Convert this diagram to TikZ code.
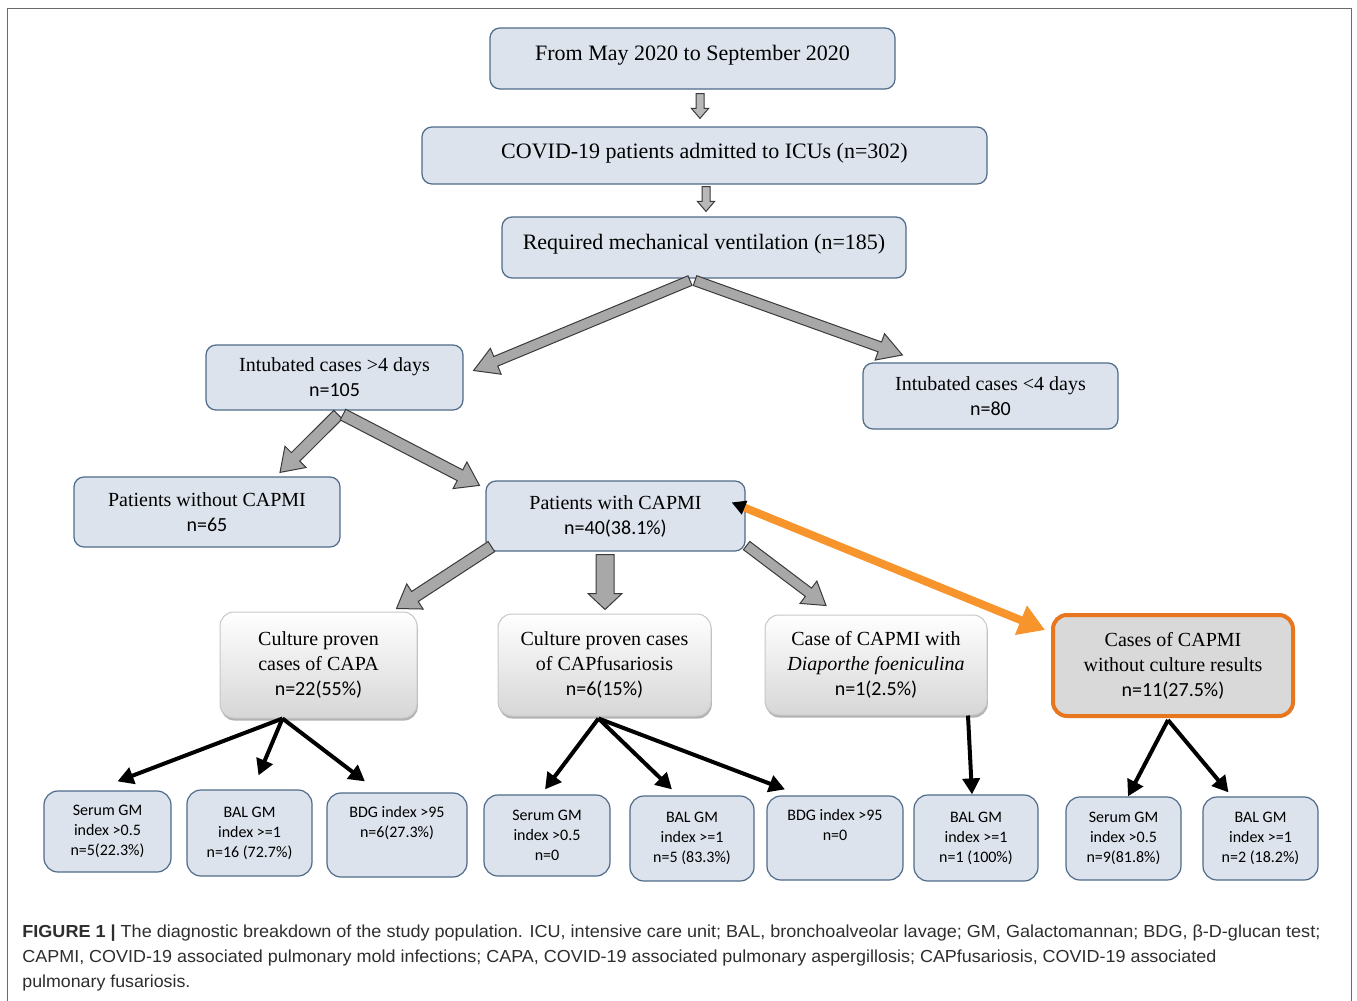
\documentclass[tikz,border=0pt]{standalone}
\usepackage{fontspec}
\usepackage{graphicx}
\setmainfont{Liberation Serif}
\newfontfamily\calfont{Carlito}
\newfontfamily\capfont{Liberation Sans}
\usetikzlibrary{calc,arrows.meta,shadows}
\definecolor{boxfill}{HTML}{DCE3ED}
\definecolor{boxedge}{HTML}{4F6B8A}
\definecolor{arrfill}{HTML}{A8A8A8}
\definecolor{arredge}{HTML}{3A3A3A}
\definecolor{orarrow}{HTML}{F7952C}
\definecolor{orbox}{HTML}{E8761E}
\definecolor{framegray}{HTML}{6A6A6A}
\newcommand\blockarrow[6][]{%
  \coordinate (bah) at ($(#3)!#6!(#2)$);
  \draw[blockarr,#1] ($(#2)!#4!90:(#3)$) -- ($(bah)!#4!90:(#3)$) -- ($(bah)!#5!90:(#3)$) -- (#3)
    -- ($(bah)!#5!-90:(#3)$) -- ($(bah)!#4!-90:(#3)$) -- ($(#2)!#4!-90:(#3)$) -- cycle;}
\begin{document}
\begin{tikzpicture}[x=0.5pt,y=-0.5pt,
  bluebox/.style={draw=boxedge, fill=boxfill, rounded corners=5pt, line width=0.6pt, align=center, inner sep=0pt},
  topbox/.style={bluebox, font=\fontsize{11}{13}\selectfont, text depth=6pt},
  midbox/.style={bluebox, font=\fontsize{10}{12.5}\selectfont},
  smallbox/.style={bluebox, rounded corners=7pt, font=\calfont\fontsize{8}{10}\selectfont},
  cultbox/.style={draw=black!22, top color=white, bottom color=black!16, rounded corners=7pt, line width=0.5pt,
     align=center, inner sep=0pt, font=\fontsize{10}{12.5}\selectfont,
     drop shadow={shadow xshift=0.4pt, shadow yshift=-1.3pt, fill=black!50, opacity=0.6}},
  orangebox/.style={draw=orbox, fill=black!15, line width=2pt, rounded corners=7pt, align=center, inner sep=0pt,
     font=\fontsize{10}{12.5}\selectfont},
  blockarr/.style={draw=arredge, fill=arrfill, line width=0.5pt, line join=miter},
  blackarr/.style={draw=black, line width=2pt, -{Triangle[length=8pt,width=8.5pt]}},
  capline/.style={anchor=base west, inner sep=0pt, text=black!82, font=\capfont\fontsize{8.7}{10}\selectfont}
]
\useasboundingbox (0,0) rectangle (1357,1001);
\fill[white] (0,0) rectangle (1357,1001);
\draw[framegray, line width=0.8pt] (7.5,1001) -- (7.5,8.5) -- (1351.5,8.5) -- (1351.5,1001);

% top boxes
\node[topbox, minimum width=202.5pt, minimum height=30.5pt] (from) at (692.5,58.5) {From May 2020 to September 2020};
\node[topbox, minimum width=282.5pt, minimum height=28.5pt, text depth=4.5pt] (covid) at (704.5,155.5) {COVID-19 patients admitted to ICUs (n=302)};
\node[topbox, minimum width=202pt, minimum height=30.5pt] (req) at (704,247.5) {Required mechanical ventilation (n=185)};

\node[midbox, minimum width=128.5pt, minimum height=32.5pt] (int4) at (334.5,377.5) {Intubated cases >4 days\\ \calfont n=105};
\node[midbox, minimum width=127.5pt, minimum height=33pt] (intlt) at (990.5,396) {Intubated cases <4 days\\ \calfont n=80};
\node[midbox, minimum width=133pt, minimum height=35pt] (without) at (207,512) {Patients without CAPMI\\ \calfont n=65};
\node[midbox, minimum width=129.5pt, minimum height=35pt] (with) at (615.5,516) {Patients with CAPMI\\ \calfont n=40(38.1\%)};

\node[cultbox, minimum width=98.5pt, minimum height=53pt] (capa) at (318.5,665) {Culture proven\\ cases of CAPA\\ \calfont n=22(55\%)};
\node[cultbox, minimum width=106.5pt, minimum height=51pt] (fus) at (604.5,665) {Culture proven cases\\ of CAPfusariosis\\ \calfont n=6(15\%)};
\node[cultbox, minimum width=111pt, minimum height=50pt] (diap) at (876,665) {Case of CAPMI with\\ \textit{Diaporthe foeniculina}\\ \calfont n=1(2.5\%)};
\node[orangebox, minimum width=120pt, minimum height=50.5pt] (nocult) at (1173,665.5) {Cases of CAPMI\\ without culture results\\ \calfont n=11(27.5\%)};

% bottom boxes
\node[smallbox, minimum width=63.5pt, minimum height=40.5pt] (s1) at (107.5,831.5) {Serum GM\\ index >0.5\\ n=5(22.3\%)};
\node[smallbox, minimum width=62.5pt, minimum height=43pt] (b1) at (249.5,833) {BAL GM\\ index >=1\\ n=16 (72.7\%)};
\node[smallbox, minimum width=70pt, minimum height=42pt] (d1) at (397,835) {BDG index >95\\ n=6(27.3\%)\\ \strut};
\node[smallbox, minimum width=63pt, minimum height=40.5pt] (s2) at (547,835.5) {Serum GM\\ index >0.5\\ n=0};
\node[smallbox, minimum width=62pt, minimum height=42.5pt] (b2) at (692,838.5) {BAL GM\\ index >=1\\ n=5 (83.3\%)};
\node[smallbox, minimum width=68pt, minimum height=42pt] (d2) at (835,838) {BDG index >95\\ n=0\\ \strut};
\node[smallbox, minimum width=62pt, minimum height=43pt] (b3) at (976,838) {BAL GM\\ index >=1\\ n=1 (100\%)};
\node[smallbox, minimum width=57.5pt, minimum height=41.5pt] (s3) at (1123.5,838.5) {Serum GM\\ index >0.5\\ n=9(81.8\%)};
\node[smallbox, minimum width=57.5pt, minimum height=41.5pt] (b4) at (1260.5,838.5) {BAL GM\\ index >=1\\ n=2 (18.2\%)};

% block arrows
\coordinate (a1s) at ($(from.south)+(7.5,4)$);
\coordinate (a1e) at ($(covid.north)+(-4.5,-8)$);
\blockarrow[fill=black!28]{a1s}{a1e}{2pt}{4.3pt}{5pt}
\coordinate (a2s) at ($(covid.south)+(1.5,2)$);
\coordinate (a2e) at ($(req.north)+(2,-5)$);
\blockarrow[fill=black!28]{a2s}{a2e}{2pt}{4.3pt}{5pt}

\coordinate (a3s) at ($(req.south)+(-14,2)$);
\coordinate (a3e) at ($(int4.east)+(10,-7)$);
\blockarrow{a3s}{a3e}{2.6pt}{7pt}{12pt}
\coordinate (a4s) at ($(req.south)+(-9,2)$);
\coordinate (a4e) at ($(intlt.west)+(40,-41)$);
\blockarrow{a4s}{a4e}{2.6pt}{7pt}{12pt}
\coordinate (a5s) at ($(int4.south)+(3.5,4)$);
\coordinate (a5e) at ($(without.north)+(73,-4)$);
\blockarrow{a5s}{a5e}{3pt}{7.5pt}{11pt}
\coordinate (a6s) at ($(int4.south)+(8.5,4)$);
\coordinate (a6e) at ($(with.north)+(-136,5)$);
\blockarrow{a6s}{a6e}{3pt}{7.5pt}{11pt}
\coordinate (a7s) at ($(with.south west)+(6,-5)$);
\coordinate (a7e) at ($(capa.north)+(78,-3)$);
\blockarrow{a7s}{a7e}{3pt}{7.5pt}{11pt}
\coordinate (a8s) at ($(with.south)+(-10.5,3)$);
\coordinate (a8e) at ($(fus.north)+(0.5,-4)$);
\blockarrow{a8s}{a8e}{4.5pt}{8.5pt}{8pt}
\coordinate (a9s) at ($(with.south east)+(1,-6)$);
\coordinate (a9e) at ($(diap.north)+(-50,-9)$);
\blockarrow{a9s}{a9e}{2.6pt}{7pt}{11pt}

% orange arrow
\coordinate (ors) at ($(with.north east)+(-14,22)$);
\coordinate (ore) at ($(nocult.north west)+(-6,17)$);
\draw[orarrow, line width=4pt, {Triangle[color=black,length=7pt,width=7pt]}-{Triangle[length=13pt,width=15pt]}] (ors) -- (ore);

% black arrows
\coordinate (capab) at ($(capa.south)+(-36,0)$);
\draw[blackarr] (capab) -- ($(s1.north)+(10,-9)$);
\draw[blackarr] (capab) -- ($(b1.north)+(9,-14)$);
\draw[blackarr] (capab) -- ($(d1.north)+(-32,-11)$);
\coordinate (fusb) at ($(fus.south)+(-6,2)$);
\draw[blackarr] (fusb) -- ($(s2.north)+(-2,-5)$);
\draw[blackarr] (fusb) -- ($(b2.north)+(-20,-6)$);
\draw[blackarr] (fusb) -- ($(d2.north)+(-50,-6)$);
\draw[blackarr] ($(diap.south)+(92,0)$) -- ($(b3.north)+(-4,0)$);
\coordinate (nocb) at ($(nocult.south)+(-5,2)$);
\draw[blackarr] (nocb) -- ($(s3.north)+(4.5,0)$);
\draw[blackarr] (nocb) -- ($(b4.north)+(-32,-4)$);

% caption
\node[capline] (cap1) at (22,937) {\resizebox{649pt}{\height}{\textbf{FIGURE 1 |} The diagnostic breakdown of the study population. ICU, intensive care unit; BAL, bronchoalveolar lavage; GM, Galactomannan; BDG, β-D-glucan test;}};
\node[capline] (cap2) at (22,962) {\resizebox{597pt}{\height}{CAPMI, COVID-19 associated pulmonary mold infections; CAPA, COVID-19 associated pulmonary aspergillosis; CAPfusariosis, COVID-19 associated}};
\node[capline] (cap3) at (22,987) {\resizebox{84pt}{\height}{pulmonary fusariosis.}};
\end{tikzpicture}
\end{document}
